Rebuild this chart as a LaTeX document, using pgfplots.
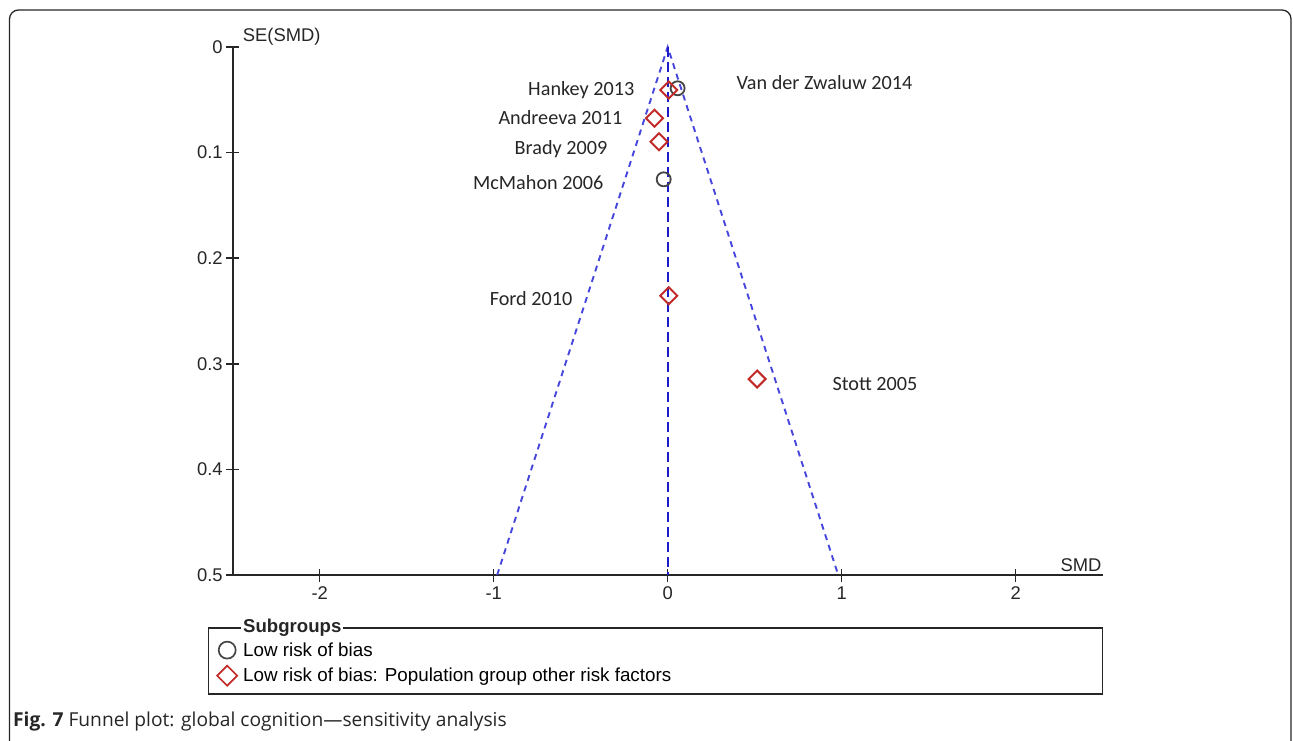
\documentclass[border=0pt]{standalone}
\usepackage{fontspec}
\setmainfont{Liberation Sans}
\newfontfamily\carl{Carlito}
\newfontfamily\capfont{Open Sans}
\usepackage{pgfplots}
\pgfplotsset{compat=1.18}
\definecolor{funnel}{HTML}{4646DC}
\definecolor{centre}{HTML}{1C1CC8}
\definecolor{lowrisk}{HTML}{454545}
\definecolor{popgrp}{HTML}{C22A2A}
\begin{document}
\begin{tikzpicture}
\path[use as bounding box] (0pt,0pt) rectangle (1293pt,741pt);
\draw[line width=1.3pt, rounded corners=9pt, color=black!85] (9.5pt,-20pt) -- (9.5pt,731pt) -- (1291pt,731pt) -- (1291pt,-20pt);
\begin{axis}[
  at={(232.7pt,166pt)}, anchor=south west,
  scale only axis, width=870pt, height=528pt,
  xmin=-2.5, xmax=2.5, ymin=0, ymax=0.5, y dir=reverse,
  axis x line*=bottom, axis y line*=left,
  xtick={-2,-1,0,1,2}, xticklabels={-2,-1,0,1,2},
  ytick={0,0.1,0.2,0.3,0.4,0.5}, yticklabels={0,0.1,0.2,0.3,0.4,0.5},
  tick align=center, major tick length=13pt,
  axis line style={line width=1.7pt, black!85},
  tick style={line width=1.5pt, black!85},
  ticklabel style={font=\fontsize{18.4}{20}\selectfont, black!85},
  xticklabel style={yshift=-2pt},
  clip=false,
  legend cell align=left,
  legend style={at={(-0.0215,-0.1200)}, anchor=north west, draw=none, fill=none,
    font=\fontsize{18.8}{20}\selectfont, row sep=6pt, column sep=4pt},
]
\addlegendimage{only marks, mark=o, mark size=8.5pt, mark options={lowrisk, line width=1.7pt}}
\addlegendentry{Low risk of bias}
\addlegendimage{only marks, mark=square, mark size=7.07pt, mark options={popgrp, line width=1.7pt, rotate=45}}
\addlegendentry{Low risk of bias: Population group other risk factors}
% funnel
\addplot[funnel, line width=1.9pt, dash pattern=on 6pt off 5pt, forget plot] coordinates {(-0.98,0.5) (0,0) (0.98,0.5)};
\addplot[centre, line width=2.3pt, dash pattern=on 10pt off 5pt, forget plot] coordinates {(0,0) (0,0.5)};
% low risk of bias
\addplot[only marks, mark=o, mark size=7pt, mark options={lowrisk, line width=1.8pt}, forget plot] coordinates {
(0.057,0.0391) (-0.023,0.1253)};
% population group other risk factors
\addplot[only marks, mark=square, mark size=6pt, mark options={popgrp, line width=2pt, rotate=45}, forget plot] coordinates {
(0.006,0.0407) (-0.076,0.0675) (-0.050,0.0897) (0.006,0.2355) (0.514,0.3144)};
% study labels
\begin{scope}[every node/.style={font=\carl\fontsize{20.2}{22}\selectfont, inner sep=0pt, text=black!85}]
\node[anchor=base east] at (axis cs:-0.1912,0.0460) {Hankey 2013};
\node[anchor=base east] at (axis cs:-0.260,0.0734) {Andreeva 2011};
\node[anchor=base east] at (axis cs:-0.346,0.1018) {Brady 2009};
\node[anchor=base east] at (axis cs:-0.369,0.1350) {McMahon 2006};
\node[anchor=base east] at (axis cs:-0.547,0.2448) {Ford 2010};
\node[anchor=base west] at (axis cs:0.395,0.0403) {Van der Zwaluw 2014};
\node[anchor=base west] at (axis cs:0.946,0.3253) {Stott 2005};
\end{scope}
\node[anchor=south east, inner sep=1pt, font=\fontsize{18.4}{20}\selectfont, text=black!85] at (axis cs:2.5,0.5) [yshift=2pt] {SMD};
\node[anchor=west, inner sep=0pt, font=\fontsize{18.4}{20}\selectfont, text=black!85] at (axis cs:-2.5,0) [xshift=10pt, yshift=10pt] {SE(SMD)};
\end{axis}
\draw[line width=1.5pt, black!85] (208.3pt,47pt) rectangle (1102.3pt,113pt);
\node[anchor=west, fill=white, inner xsep=2pt, inner ysep=0pt, font=\bfseries\fontsize{18.6}{20}\selectfont, text=black!85] at (241pt,113pt) {Subgroups};
\node[anchor=base west, inner sep=0pt, text=black!85] at (13pt,14pt) {\capfont\fontsize{19.2}{21}\selectfont\textbf{Fig. 7} Funnel plot: global cognition—sensitivity analysis};
\end{tikzpicture}
\end{document}
